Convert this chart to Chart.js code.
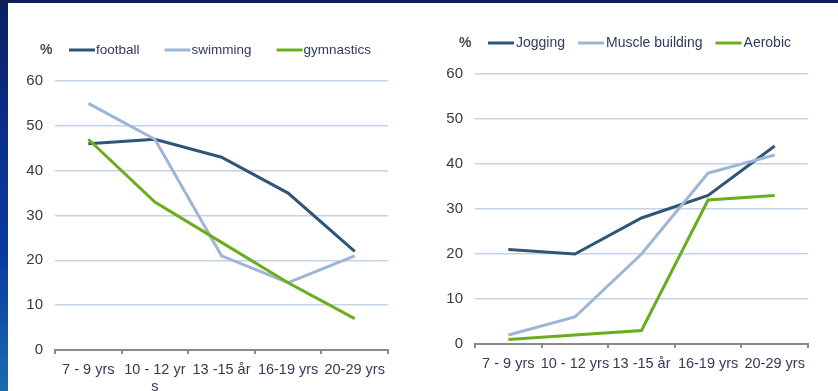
<!DOCTYPE html>
<html>
<head>
<meta charset="utf-8">
<script src="https://cdn.jsdelivr.net/npm/chart.js@4.4.1/dist/chart.umd.min.js"></script>
<style>
  html, body { margin: 0; padding: 0; background: #fff; }
  #frame {
    position: relative; width: 838px; height: 391px; overflow: hidden;
    background: linear-gradient(180deg, #0c1f5e 0%, #0a2f8e 35%, #0a3aa0 65%, #1b6cae 100%);
  }
  #topbar { position: absolute; left: 0; top: 0; width: 838px; height: 3px; background: #0e1f58; }
  #panel { position: absolute; left: 8px; top: 3px; width: 830px; height: 388px; background: #fff; }
  #c1 { position: absolute; left: 8px; top: 3px; }
  #c2 { position: absolute; left: 420px; top: 3px; }
</style>
</head>
<body>
<div id="frame">
  <div id="topbar"></div>
  <div id="panel"></div>
  <canvas id="c1" width="410" height="388"></canvas>
  <canvas id="c2" width="418" height="388"></canvas>
</div>
<script>
// Age groups (x categories)
const ageGroupsLeft  = ['7 - 9 yrs', ['10 - 12 yr', 's'], '13 -15 år', '16-19 yrs', '20-29 yrs'];
const ageGroupsRight = ['7 - 9 yrs', '10 - 12 yrs', '13 -15 år', '16-19 yrs', '20-29 yrs'];

// Share of each age group doing the activity, %
const football   = [46, 47, 43, 35, 22];
const swimming   = [55, 47, 21, 15, 21];
const gymnastics = [47, 33, 24, 15, 7];

const jogging        = [21, 20, 28, 33, 44];
const muscleBuilding = [2, 6, 20, 38, 42];
const aerobic        = [1, 2, 3, 32, 33];

// Value axis
const yMin = 0, yMax = 60, yStep = 10;

const DARK = '#2f5677', LIGHT = '#9db6d7', GREEN = '#6aae1f';
const FONT = "'Liberation Sans', Arial, sans-serif";

// Legend row: unit sign followed by short line samples and series names
const seriesLegend = {
  id: 'seriesLegend',
  afterDraw(chart, args, o) {
    const ctx = chart.ctx;
    ctx.save();
    ctx.textBaseline = 'middle';
    ctx.textAlign = 'left';
    ctx.font = 'bold 14px ' + FONT;
    ctx.fillStyle = '#4a4a4a';
    ctx.fillText(o.unit, o.unitX, o.y);
    ctx.font = o.fontSize + 'px ' + FONT;
    let x = o.x;
    chart.data.datasets.forEach(ds => {
      ctx.strokeStyle = ds.borderColor;
      ctx.lineWidth = 3;
      ctx.beginPath();
      ctx.moveTo(x, o.y);
      ctx.lineTo(x + o.lineLength, o.y);
      ctx.stroke();
      x += o.lineLength + o.textGap;
      ctx.fillStyle = '#2e3a60';
      ctx.fillText(ds.label, x, o.y);
      x += ctx.measureText(ds.label).width + o.itemGap;
    });
    ctx.restore();
  }
};

function series(label, data, color, order) {
  return {
    label, data, borderColor: color, backgroundColor: color,
    borderWidth: 3, pointRadius: 0, tension: 0, order, fill: false
  };
}

function makeChart(id, labels, datasets, L) {
  return new Chart(document.getElementById(id), {
    type: 'line',
    data: { labels, datasets },
    options: {
      responsive: false,
      animation: false,
      layout: { padding: { left: 0, top: L.top, right: L.right, bottom: 0 } },
      plugins: {
        legend: { display: false },
        tooltip: { enabled: false },
        seriesLegend: L.legend
      },
      scales: {
        x: {
          type: 'category',
          offset: true,
          grid: { offset: true, drawOnChartArea: false, drawTicks: true, tickLength: 4, color: '#8a8a8a', lineWidth: 2 },
          border: { display: true, color: '#8a8a8a', width: 2 },
          ticks: { color: '#353a55', font: { family: FONT, size: 14.5 }, padding: 7, maxRotation: 0, autoSkip: false },
          afterFit(s) { s.height = L.xHeight; }
        },
        y: {
          min: yMin, max: yMax,
          grid: { color: '#c5d3e7', lineWidth: 1.6, drawTicks: false },
          border: { display: false },
          ticks: { stepSize: yStep, color: '#3a3a3a', font: { family: FONT, size: 15 }, padding: 12 },
          afterFit(s) { s.width = L.yWidth; }
        }
      }
    },
    plugins: [seriesLegend]
  });
}

makeChart('c1', ageGroupsLeft, [
  series('football', football, DARK, 3),
  series('swimming', swimming, LIGHT, 2),
  series('gymnastics', gymnastics, GREEN, 1)
], {
  top: 78, right: 30, yWidth: 47, xHeight: 41,
  legend: { unit: '%', unitX: 32, y: 47, x: 61, lineLength: 26, textGap: 1, itemGap: 25, fontSize: 13.5 }
});

makeChart('c2', ageGroupsRight, [
  series('Jogging', jogging, DARK, 3),
  series('Muscle building', muscleBuilding, LIGHT, 2),
  series('Aerobic', aerobic, GREEN, 1)
], {
  top: 71, right: 30, yWidth: 55, xHeight: 47,
  legend: { unit: '%', unitX: 39, y: 40, x: 68, lineLength: 26, textGap: 2, itemGap: 13, fontSize: 14 }
});
</script>
</body>
</html>
